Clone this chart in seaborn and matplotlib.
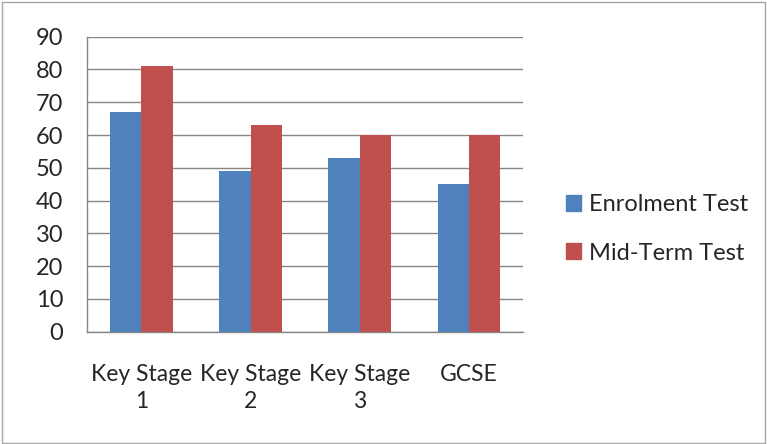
import pandas as pd
import matplotlib.pyplot as plt
import seaborn as sns
from matplotlib.patches import Rectangle

# chart values
stages = ["Key Stage\n1", "Key Stage\n2", "Key Stage\n3", "GCSE"]
enrolment = [67, 49, 53, 45]
mid_term = [81, 63, 60, 60]
series = ["Enrolment Test", "Mid-Term Test"]

df = pd.DataFrame({
    "stage": stages * 2,
    "score": enrolment + mid_term,
    "test": [series[0]] * len(stages) + [series[1]] * len(stages),
})

sns.set_style("white")
plt.rcParams["font.family"] = ["Lato", "DejaVu Sans"]

fig = plt.figure(figsize=(7.67, 4.44), dpi=100)
ax = fig.add_axes([0.1134, 0.2529, 0.5686, 0.6644])

sns.barplot(data=df, x="stage", y="score", hue="test",
            palette=["#4F81BD", "#C0504D"], width=0.57, saturation=1,
            linewidth=0, ax=ax, zorder=3, legend=False)

ax.set_ylim(0, 90)
ax.set_xlim(-0.5, 3.5)
ax.set_yticks(range(0, 91, 10))
ax.yaxis.grid(True, color="#868686", linewidth=1, zorder=0)
ax.set_axisbelow(True)
ax.set_xlabel("")
ax.set_ylabel("")

for s in ["top", "right"]:
    ax.spines[s].set_visible(False)
for s in ["left", "bottom"]:
    ax.spines[s].set_color("#868686")
    ax.spines[s].set_linewidth(1)

# category separators as ticks on the x axis
ax.set_xticks([-0.5, 0.5, 1.5, 2.5, 3.5], minor=True)
ax.tick_params(axis="x", which="minor", length=6, color="#868686", width=1)
ax.tick_params(axis="x", which="major", length=0, labelsize=16.5, pad=23)
ax.tick_params(axis="y", length=6, color="#868686", width=1, labelsize=17, pad=11)
for lbl in ax.get_xticklabels():
    lbl.set_multialignment("center")
    lbl.set_linespacing(1.4)

handles = [Rectangle((0, 0), 1, 1, color=c) for c in ["#4F81BD", "#C0504D"]]
fig.legend(handles, series, loc="center left",
           bbox_to_anchor=(566 / 767, 1 - 229 / 444), frameon=False,
           fontsize=17, handlelength=0.64, handleheight=0.64,
           handletextpad=0.35, labelspacing=1.15, borderpad=0, borderaxespad=0)

fig.patches.append(Rectangle((0.002, 0.003), 0.995, 0.993, transform=fig.transFigure,
                             fill=False, edgecolor="#A6A6A6", linewidth=1))

plt.savefig("out.png", dpi=100)
